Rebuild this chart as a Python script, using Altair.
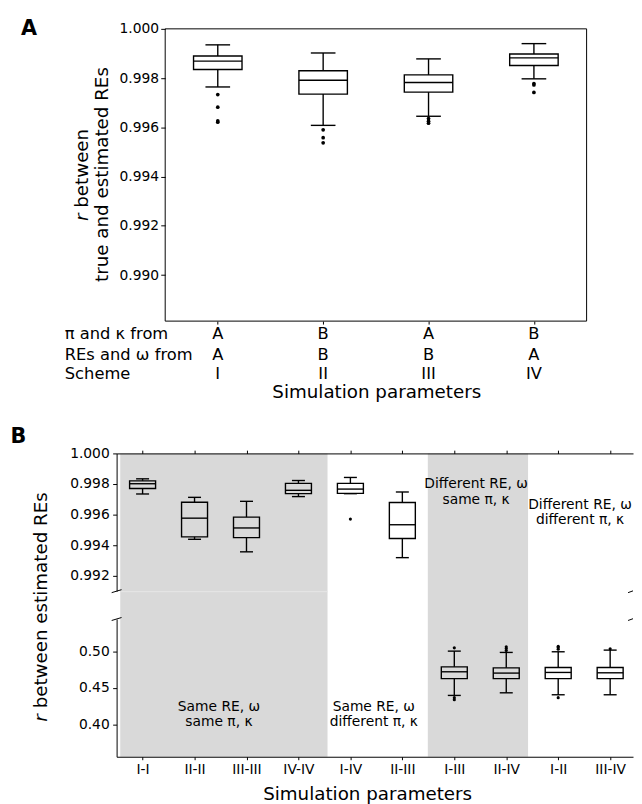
import altair as alt
import pandas as pd

FONT = "DejaVu Sans"

# ---------------- Panel A data ----------------
a_pos = [1, 2, 3, 4]
a_pi_kappa = ["A", "B", "A", "B"]
a_re_omega = ["A", "B", "B", "A"]
a_scheme = ["I", "II", "III", "IV"]
a_whislo = [0.99764, 0.99608, 0.99645, 0.99797]
a_q1 = [0.99835, 0.99735, 0.99743, 0.99851]
a_med = [0.99869, 0.99791, 0.99782, 0.99882]
a_q3 = [0.99890, 0.99830, 0.99813, 0.99898]
a_whishi = [0.99935, 0.99902, 0.99878, 0.99940]
a_out_pos = [1, 1, 1, 1, 2, 2, 2, 3, 3, 3, 4, 4, 4]
a_out_val = [0.99733, 0.99682, 0.99626, 0.99621, 0.99590, 0.99558, 0.99537,
             0.99636, 0.99625, 0.99617, 0.99778, 0.99772, 0.99742]
a_yticks = [0.990, 0.992, 0.994, 0.996, 0.998, 1.000]
a_row_labels = ["π and κ from", "REs and ω from", "Scheme"]

# ---------------- Panel B data ----------------
b_names = ["I-I", "II-II", "III-III", "IV-IV", "I-IV", "II-III",
           "I-III", "II-IV", "I-II", "III-IV"]
b_pos = list(range(10))
b_whislo = [0.99735, 0.99439, 0.99357, 0.99718, 0.99737, 0.99319,
            0.4398, 0.4434, 0.4407, 0.4407]
b_q1 = [0.99771, 0.99455, 0.99450, 0.99737, 0.99739, 0.99444,
        0.4629, 0.4629, 0.4629, 0.4629]
b_med = [0.99802, 0.99577, 0.99513, 0.99759, 0.99767, 0.99534,
         0.4724, 0.4706, 0.4715, 0.4710]
b_q3 = [0.99821, 0.99681, 0.99584, 0.99804, 0.99804, 0.99679,
        0.4792, 0.4778, 0.4783, 0.4783]
b_whishi = [0.99834, 0.99713, 0.99687, 0.99823, 0.99843, 0.99748,
            0.5009, 0.4991, 0.5000, 0.5023]
b_out_pos = [4, 6, 6, 6, 7, 7, 7, 8, 8, 8, 8, 9]
b_out_val = [0.99571, 0.5054, 0.4367, 0.4339, 0.5068, 0.5045, 0.5018,
             0.5077, 0.5059, 0.5036, 0.4367, 0.5041]
b_band_start = [-0.43, 5.49]
b_band_end = [3.56, 7.42]
b_upper_ticks = [0.992, 0.994, 0.996, 0.998, 1.000]
b_lower_ticks = [0.40, 0.45, 0.50]
b_note_upper_x = [6.42, 6.42]
b_note_upper_t = ["Different RE, ω", "same π, κ"]
b_note_clip_x = [8.42, 8.42]
b_note_clip_t = ["Different RE, ω", "different π, κ"]
b_note_lower_x = [1.47, 1.47, 4.45, 4.45]
b_note_lower_t = ["Same RE, ω", "same π, κ", "Same RE, ω", "different π, κ"]

one = pd.DataFrame({"k": [0]})
SW = 1.4


def boxplot_layers(box_df, out_df, X, Y, hb, hc, dot):
    base = alt.Chart(box_df).transform_calculate(
        xl=f"datum.pos - {hb}", xr=f"datum.pos + {hb}",
        cl=f"datum.pos - {hc}", cr=f"datum.pos + {hc}")
    rule = dict(color="black", strokeWidth=SW)
    lo_wh = base.mark_rule(**rule).encode(x=X("pos"), y=Y("lo"), y2=alt.Y2("q1"))
    hi_wh = base.mark_rule(**rule).encode(x=X("pos"), y=Y("q3"), y2=alt.Y2("hi"))
    cap_lo = base.mark_rule(**rule).encode(x=X("cl"), x2=alt.X2("cr"), y=Y("lo"))
    cap_hi = base.mark_rule(**rule).encode(x=X("cl"), x2=alt.X2("cr"), y=Y("hi"))
    box = base.mark_rect(fillOpacity=0, stroke="black", strokeWidth=SW).encode(
        x=X("xl"), x2=alt.X2("xr"), y=Y("q1"), y2=alt.Y2("q3"))
    med = base.mark_rule(**rule).encode(x=X("xl"), x2=alt.X2("xr"), y=Y("med"))
    dots = alt.Chart(out_df).mark_circle(color="black", opacity=1, size=dot).encode(
        x=X("pos"), y=Y("val"))
    return [lo_wh, hi_wh, cap_lo, cap_hi, box, med, dots]


# ================= Panel A =================
WA, HA = 476, 296
xA = alt.Scale(domain=[0.04, 4.5], nice=False, zero=False)
yA = alt.Scale(domain=[0.98813, 1.0], nice=False, zero=False)
axA_x = alt.Axis(values=a_pos, labels=False, domain=False, tickSize=3,
                 tickColor="black", tickWidth=1, grid=False, title=None)
axA_y = alt.Axis(values=a_yticks, format=".3f", offset=-49.2, domain=False,
                 tickSize=4.5, tickColor="black", tickWidth=1, labelFontSize=14,
                 labelPadding=2.2, labelColor="black", grid=False, title=None,
                 labelFlush=False, labelOverlap=False, zindex=1)


def XA(f):
    return alt.X(f, type="quantitative", scale=xA, axis=axA_x)


def YA(f):
    return alt.Y(f, type="quantitative", scale=yA, axis=axA_y)


dfA = pd.DataFrame({"pos": a_pos, "lo": a_whislo, "q1": a_q1, "med": a_med,
                    "q3": a_q3, "hi": a_whishi, "pk": a_pi_kappa,
                    "ro": a_re_omega, "sc": a_scheme})
outA = pd.DataFrame({"pos": a_out_pos, "val": a_out_val})
ROWS_Y = [314, 335, 354.2]
rowsA = pd.DataFrame({"label": a_row_labels, "py": ROWS_Y})

frameA = alt.Chart(one).mark_rect(fillOpacity=0, stroke="black", strokeWidth=1).encode(
    x=alt.value(49.2), x2=alt.value(WA), y=alt.value(0), y2=alt.value(HA))

txt = dict(font=FONT, color="black")
catA = [
    alt.Chart(dfA).mark_text(fontSize=16.5, baseline="alphabetic", **txt).encode(
        x=XA("pos"), y=alt.value(py), text=f"{fld}:N")
    for fld, py in zip(["pk", "ro", "sc"], ROWS_Y)
]
rowlabA = alt.Chart(rowsA).mark_text(fontSize=16.5, align="left", baseline="alphabetic", **txt).encode(
    x=alt.value(-52.5), y=alt.Y("py:Q", scale=None, axis=None), text="label:N")
xtitleA = alt.Chart(one).mark_text(fontSize=18.5, baseline="alphabetic", **txt).encode(
    x=alt.value(263.5), y=alt.value(373.7), text=alt.value("Simulation parameters"))
yt2A = alt.Chart(one).mark_text(fontSize=18.5, angle=270, baseline="middle", **txt).encode(
    x=alt.value(-15), y=alt.value(147.5), text=alt.value("true and estimated REs"))
yt1rA = alt.Chart(one).mark_text(fontSize=18.5, angle=270, align="left", baseline="middle",
                                 fontStyle="italic", **txt).encode(
    x=alt.value(-34.5), y=alt.value(194.7), text=alt.value("r"))
yt1bA = alt.Chart(one).mark_text(fontSize=18.5, angle=270, align="left", baseline="middle", **txt).encode(
    x=alt.value(-34.5), y=alt.value(181.2), text=alt.value("between"))
labA = alt.Chart(one).mark_text(fontSize=21, fontWeight="bold", align="left", baseline="alphabetic", **txt).encode(
    x=alt.value(-96.8), y=alt.value(6.7), text=alt.value("A"))
bndA1 = alt.Chart(one).mark_rule(strokeOpacity=0).encode(
    x=alt.value(-109.5), x2=alt.value(-109), y=alt.value(-15.3))
bndA2 = alt.Chart(one).mark_rule(strokeOpacity=0).encode(
    x=alt.value(0), x2=alt.value(1), y=alt.value(395))

panelA = alt.layer(
    frameA,
    *boxplot_layers(dfA, outA, XA, YA, 0.23, 0.117, 14),
    *catA, rowlabA, xtitleA, yt2A, yt1rA, yt1bA, labA, bndA1, bndA2
).properties(width=WA, height=HA)

# ================= Panel B =================
WB, HU, HL, GAP = 523, 139.5, 139.5, 27.7
xB = alt.Scale(domain=[-0.5, 9.44], nice=False, zero=False)
yU = alt.Scale(domain=[0.991, 1.0], nice=False, zero=False)
yL = alt.Scale(domain=[0.3552, 0.5452], nice=False, zero=False)
common_ax = dict(domainColor="black", domainWidth=1, tickColor="black", tickWidth=1,
                 grid=False, title=None, labelFontSize=14, labelColor="black",
                 labelFlush=False, labelOverlap=False, zindex=1)
axU_x = alt.Axis(orient="top", values=b_pos, labels=False, tickSize=3.3, **common_ax)
axU_y = alt.Axis(values=b_upper_ticks, format=".3f", tickSize=4, labelPadding=3.5, **common_ax)
label_expr = "[" + ",".join(f"'{n}'" for n in b_names) + "][datum.value]"
axL_x = alt.Axis(orient="bottom", values=b_pos, labelExpr=label_expr, tickSize=3,
                 labelPadding=3, **common_ax)
axL_y = alt.Axis(values=b_lower_ticks, format=".2f", tickSize=4, labelPadding=3.5, **common_ax)


def mkX(axis):
    return lambda f: alt.X(f, type="quantitative", scale=xB, axis=axis)


def mkY(scale, axis):
    return lambda f: alt.Y(f, type="quantitative", scale=scale, axis=axis)


XU, YU = mkX(axU_x), mkY(yU, axU_y)
XL, YL = mkX(axL_x), mkY(yL, axL_y)

dfB = pd.DataFrame({"pos": b_pos, "lo": b_whislo, "q1": b_q1, "med": b_med,
                    "q3": b_q3, "hi": b_whishi})
outB = pd.DataFrame({"pos": b_out_pos, "val": b_out_val})
bands = pd.DataFrame({"s": b_band_start, "e": b_band_end})
GRAY = "#d9d9d9"

bandU = alt.Chart(bands).mark_rect(color=GRAY).encode(
    x=XU("s"), x2=alt.X2("e"), y=alt.value(0), y2=alt.value(HU + GAP + 0.5))
seamU = alt.Chart(bands.iloc[:1]).mark_rule(color="#e6e6e6", strokeWidth=1).encode(
    x=XU("s"), x2=alt.X2("e"), y=alt.value(HU + 0.5))
bandL = alt.Chart(bands).mark_rect(color=GRAY).encode(
    x=XL("s"), x2=alt.X2("e"), y=alt.value(0), y2=alt.value(HL))

notesU = alt.Chart(pd.DataFrame({"x": b_note_upper_x, "py": [31, 47.2], "t": b_note_upper_t})).mark_text(
    fontSize=14, baseline="middle", **txt).encode(
    x=XU("x"), y=alt.Y("py:Q", scale=None, axis=None), text="t:N")
notesC = alt.Chart(pd.DataFrame({"x": b_note_clip_x, "py": [52.4, 67.7], "t": b_note_clip_t})).mark_text(
    fontSize=14, baseline="middle", clip=True, **txt).encode(
    x=XU("x"), y=alt.Y("py:Q", scale=None, axis=None), text="t:N")
notesL = alt.Chart(pd.DataFrame({"x": b_note_lower_x, "py": [89.3, 104.3, 89.3, 104.3],
                                 "t": b_note_lower_t})).mark_text(
    fontSize=14, baseline="middle", **txt).encode(
    x=XL("x"), y=alt.Y("py:Q", scale=None, axis=None), text="t:N")

brkU = alt.Chart(pd.DataFrame({"x1": [-5, 518], "x2": [5, 523], "y1": [HU + 1.5, HU + 1.5],
                               "y2": [HU - 1.5, HU - 0.3]})).mark_rule(color="black", strokeWidth=1).encode(
    x=alt.X("x1:Q", scale=None, axis=None), x2=alt.X2("x2"),
    y=alt.Y("y1:Q", scale=None, axis=None), y2=alt.Y2("y2"))
brkL = alt.Chart(pd.DataFrame({"x1": [-5, 518], "x2": [5, 523], "y1": [1.5, 1.5],
                               "y2": [-1.5, -0.3]})).mark_rule(color="black", strokeWidth=1).encode(
    x=alt.X("x1:Q", scale=None, axis=None), x2=alt.X2("x2"),
    y=alt.Y("y1:Q", scale=None, axis=None), y2=alt.Y2("y2"))

labB = alt.Chart(one).mark_text(fontSize=21, fontWeight="bold", align="left", baseline="alphabetic", **txt).encode(
    x=alt.value(-107.5), y=alt.value(-10.6), text=alt.value("B"))
ytrB = alt.Chart(one).mark_text(fontSize=18.5, angle=270, align="left", baseline="middle",
                                fontStyle="italic", **txt).encode(
    x=alt.value(-76.5), y=alt.value(271.7), text=alt.value("r"))
ytbB = alt.Chart(one).mark_text(fontSize=18.5, angle=270, align="left", baseline="middle", **txt).encode(
    x=alt.value(-76.5), y=alt.value(258.2), text=alt.value("between estimated REs"))
bndB = alt.Chart(one).mark_rule(strokeOpacity=0).encode(
    x=alt.value(-109.5), x2=alt.value(-109), y=alt.value(-31))
xtitleB = alt.Chart(one).mark_text(fontSize=18.5, baseline="alphabetic", **txt).encode(
    x=alt.value(254.2), y=alt.value(183), text=alt.value("Simulation parameters"))

upper = alt.layer(
    bandU, seamU,
    *boxplot_layers(dfB[dfB["pos"] < 6], outB[outB["pos"] < 6], XU, YU, 0.25, 0.125, 10),
    notesU, notesC, brkU, labB, ytrB, ytbB, bndB
).properties(width=WB, height=HU)

lower = alt.layer(
    bandL,
    *boxplot_layers(dfB[dfB["pos"] >= 6], outB[outB["pos"] >= 6], XL, YL, 0.25, 0.125, 10),
    notesL, brkL, xtitleB
).properties(width=WB, height=HL)

panelB = alt.vconcat(upper, lower, spacing=GAP, bounds="flush")

chart = alt.vconcat(panelA, panelB, spacing=4).properties(padding=0).configure_view(
    stroke=None).configure_axis(labelFont=FONT, titleFont=FONT).configure_text(font=FONT)

chart.save("out.html", embed_options={"renderer": "svg", "actions": False})
